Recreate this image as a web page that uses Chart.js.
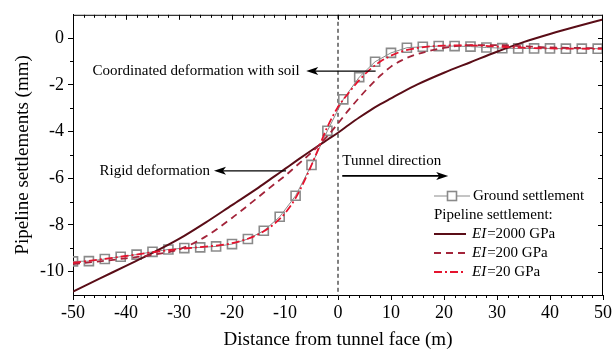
<!DOCTYPE html>
<html>
<head>
<meta charset="utf-8">
<script src="https://cdn.jsdelivr.net/npm/chart.js@4.4.0/dist/chart.umd.min.js"></script>
<style>
  html, body { margin: 0; padding: 0; background: #fff; }
  #wrap { width: 614px; height: 356px; }
</style>
</head>
<body>
<div id="wrap"><canvas id="settlementChart"></canvas></div>
<script>
// ground surface settlement, measured every 3 m (m, mm)
const groundX = [-50, -47, -44, -41, -38, -35, -32, -29, -26, -23, -20, -17, -14, -11, -8, -5, -2, 1, 4, 7, 10, 13, 16, 19, 22, 25, 28, 31, 34, 37, 40, 43, 46, 49];
const groundY = [-9.56, -9.55, -9.46, -9.36, -9.27, -9.15, -9.05, -8.99, -8.96, -8.92, -8.82, -8.6, -8.25, -7.65, -6.75, -5.43, -3.97, -2.62, -1.67, -1.01, -0.63, -0.41, -0.37, -0.34, -0.34, -0.36, -0.4, -0.43, -0.44, -0.44, -0.44, -0.45, -0.45, -0.45];

// pipeline settlement for three bending stiffnesses
const pipeX = [-50, -45, -40, -35, -30, -25, -20, -15, -12, -10, -8, -6, -4, -2, 0, 2, 4, 6, 8, 10, 12, 15, 20, 25, 30, 35, 40, 45, 50];
const pipe2000 = [-10.85, -10.3, -9.75, -9.2, -8.6, -7.9, -7.15, -6.4, -5.92, -5.6, -5.28, -4.96, -4.65, -4.35, -4.05, -3.72, -3.4, -3.1, -2.83, -2.58, -2.33, -1.98, -1.48, -1.03, -0.58, -0.17, 0.18, 0.5, 0.8];
const pipe200 = [-9.68, -9.56, -9.43, -9.28, -9.05, -8.5, -7.7, -6.8, -6.25, -5.9, -5.5, -5.1, -4.68, -4.2, -3.65, -3.08, -2.55, -2.05, -1.6, -1.22, -0.95, -0.68, -0.42, -0.3, -0.3, -0.35, -0.4, -0.42, -0.43];
const pipe20 = [-9.62, -9.48, -9.33, -9.17, -9.03, -8.93, -8.78, -8.4, -7.95, -7.5, -6.85, -5.95, -4.9, -3.8, -2.95, -2.35, -1.8, -1.35, -1.0, -0.75, -0.57, -0.42, -0.32, -0.31, -0.36, -0.41, -0.44, -0.45, -0.46];

const xTicks = [-50, -40, -30, -20, -10, 0, 10, 20, 30, 40, 50];
const yTicks = [-10, -8, -6, -4, -2, 0];

const SERIF = '"Liberation Serif", "Times New Roman", serif';
const C_GROUND = '#8a8a8a';
const C_2000 = '#5a0d17';
const C_200 = '#a3243a';
const C_20 = '#e5132e';

const pts = (xs, ys) => xs.map((x, i) => ({ x: x, y: ys[i] }));

// filled arrow head pointing along x
function arrow(ctx, x1, x2, y, lw) {
  const dir = x2 > x1 ? 1 : -1;
  const len = 12, half = 4;
  ctx.save();
  ctx.strokeStyle = '#000';
  ctx.fillStyle = '#000';
  ctx.lineWidth = lw;
  ctx.beginPath();
  ctx.moveTo(x1, y);
  ctx.lineTo(x2 - dir * len * 0.6, y);
  ctx.stroke();
  ctx.beginPath();
  ctx.moveTo(x2, y);
  ctx.lineTo(x2 - dir * len, y - half);
  ctx.lineTo(x2 - dir * len * 0.75, y);
  ctx.lineTo(x2 - dir * len, y + half);
  ctx.closePath();
  ctx.fill();
  ctx.restore();
}

const decor = {
  id: 'decor',
  beforeDatasetsDraw(chart) {
    const { ctx, chartArea: a, scales: { x } } = chart;
    // tunnel face line
    const x0 = x.getPixelForValue(0);
    ctx.save();
    ctx.strokeStyle = '#000';
    ctx.lineWidth = 1;
    ctx.setLineDash([4, 3]);
    ctx.beginPath();
    ctx.moveTo(x0, a.top);
    ctx.lineTo(x0, a.bottom);
    ctx.stroke();
    ctx.restore();
  },
  afterDatasetsDraw(chart) {
    const { ctx, scales: { x, y } } = chart;
    ctx.save();
    ctx.font = '15px ' + SERIF;
    ctx.fillStyle = '#000';
    ctx.textBaseline = 'middle';
    ctx.textAlign = 'left';

    ctx.fillText('Coordinated deformation with soil', x.getPixelForValue(-46.3), y.getPixelForValue(-1.41));
    arrow(ctx, x.getPixelForValue(7.1), x.getPixelForValue(-6.0), y.getPixelForValue(-1.41), 1.2);

    ctx.fillText('Rigid deformation', x.getPixelForValue(-45), y.getPixelForValue(-5.68));
    arrow(ctx, x.getPixelForValue(-9.8), x.getPixelForValue(-23.4), y.getPixelForValue(-5.68), 1.2);

    ctx.fillText('Tunnel direction', x.getPixelForValue(0.8), y.getPixelForValue(-5.26));
    arrow(ctx, x.getPixelForValue(0.8), x.getPixelForValue(20.8), y.getPixelForValue(-5.9), 1.8);
    ctx.restore();
  },
  afterDraw(chart) {
    const { ctx, chartArea: a, scales: { x, y } } = chart;
    ctx.save();
    ctx.strokeStyle = '#000';
    ctx.lineWidth = 1;

    // top and right frame
    ctx.beginPath();
    ctx.moveTo(a.left, a.top + 0.5);
    ctx.lineTo(a.right, a.top + 0.5);
    ctx.moveTo(a.right - 0.5, a.top);
    ctx.lineTo(a.right - 0.5, a.bottom);
    ctx.stroke();

    // minor ticks outside, all ticks mirrored inside on top/right
    ctx.beginPath();
    for (let v = -50; v <= 50; v += 2) {
      const px = Math.round(x.getPixelForValue(v)) + 0.5;
      const major = v % 10 === 0;
      if (!major) {
        ctx.moveTo(px, a.bottom);
        ctx.lineTo(px, a.bottom + 3);
      }
      if (v > -50 && v < 50) {
        ctx.moveTo(px, a.top);
        ctx.lineTo(px, a.top + (major ? 5 : 3));
      }
    }
    for (let v = -10; v <= 0; v += 1) {
      const py = Math.round(y.getPixelForValue(v)) + 0.5;
      const major = v % 2 === 0;
      if (!major) {
        ctx.moveTo(a.left, py);
        ctx.lineTo(a.left - 3, py);
      }
      ctx.moveTo(a.right, py);
      ctx.lineTo(a.right - (major ? 5 : 3), py);
    }
    ctx.stroke();

    // legend
    const lx = a.right - 169;
    const rows = [a.bottom - 99, a.bottom - 80, a.bottom - 61, a.bottom - 42, a.bottom - 23];
    ctx.font = '15px ' + SERIF;
    ctx.fillStyle = '#000';
    ctx.textBaseline = 'middle';
    ctx.textAlign = 'left';

    ctx.strokeStyle = C_GROUND;
    ctx.lineWidth = 1;
    ctx.beginPath();
    ctx.moveTo(lx, rows[0]);
    ctx.lineTo(lx + 36, rows[0]);
    ctx.stroke();
    ctx.fillStyle = '#fff';
    ctx.lineWidth = 1.6;
    ctx.fillRect(lx + 13.5, rows[0] - 4.5, 9, 9);
    ctx.strokeRect(lx + 13.5, rows[0] - 4.5, 9, 9);
    ctx.fillStyle = '#000';
    ctx.fillText('Ground settlement', lx + 39, rows[0]);
    ctx.fillText('Pipeline settlement:', lx, rows[1]);

    const items = [
      { color: C_2000, dash: [], width: 2, label: '=2000 GPa' },
      { color: C_200, dash: [7, 5], width: 1.8, label: '=200 GPa' },
      { color: C_20, dash: [8, 3, 2, 3], width: 1.8, label: '=20 GPa' }
    ];
    items.forEach((it, i) => {
      const ry = rows[i + 2];
      ctx.strokeStyle = it.color;
      ctx.lineWidth = it.width;
      ctx.setLineDash(it.dash);
      ctx.beginPath();
      ctx.moveTo(lx, ry);
      ctx.lineTo(lx + 32, ry);
      ctx.stroke();
      ctx.setLineDash([]);
      ctx.font = 'italic 15px ' + SERIF;
      ctx.fillText('EI', lx + 38, ry);
      const w = ctx.measureText('EI').width;
      ctx.font = '15px ' + SERIF;
      ctx.fillText(it.label, lx + 38 + w + 1, ry);
    });
    ctx.restore();
  }
};

const ctx = document.getElementById('settlementChart').getContext('2d');
new Chart(ctx, {
  type: 'line',
  data: {
    datasets: [
      {
        label: 'Ground settlement',
        data: pts(groundX, groundY),
        borderColor: C_GROUND,
        borderWidth: 1,
        tension: 0,
        pointStyle: 'rect',
        pointRadius: 6.4,
        pointBorderWidth: 1.6,
        pointBorderColor: C_GROUND,
        pointBackgroundColor: 'rgba(0,0,0,0)',
        order: 4
      },
      {
        label: 'EI=2000 GPa',
        data: pts(pipeX, pipe2000),
        borderColor: C_2000,
        borderWidth: 2,
        cubicInterpolationMode: 'monotone',
        pointRadius: 0,
        order: 3
      },
      {
        label: 'EI=200 GPa',
        data: pts(pipeX, pipe200),
        borderColor: C_200,
        borderWidth: 1.8,
        borderDash: [7, 5],
        cubicInterpolationMode: 'monotone',
        pointRadius: 0,
        order: 2
      },
      {
        label: 'EI=20 GPa',
        data: pts(pipeX, pipe20),
        borderColor: C_20,
        borderWidth: 1.8,
        borderDash: [8, 3, 2, 3],
        cubicInterpolationMode: 'monotone',
        pointRadius: 0,
        order: 1
      }
    ]
  },
  options: {
    responsive: true,
    maintainAspectRatio: false,
    animation: false,
    layout: { padding: { left: 0, right: 8, top: 14, bottom: 0 } },
    plugins: {
      legend: { display: false },
      tooltip: { enabled: false }
    },
    scales: {
      x: {
        type: 'linear',
        min: -50,
        max: 50,
        afterBuildTicks: s => { s.ticks = xTicks.map(v => ({ value: v })); },
        afterFit: s => { s.height = 61; },
        ticks: { color: '#000', font: { family: SERIF, size: 18 }, padding: 2, maxRotation: 0 },
        grid: { drawOnChartArea: false, drawTicks: true, tickLength: 5, color: '#000' },
        border: { display: true, color: '#000', width: 1 },
        title: {
          display: true,
          text: 'Distance from tunnel face (m)',
          color: '#000',
          font: { family: SERIF, size: 19 },
          padding: { top: 0, bottom: 5 }
        }
      },
      y: {
        min: -11,
        max: 1,
        afterBuildTicks: s => { s.ticks = yTicks.map(v => ({ value: v })); },
        afterFit: s => { s.width = 73; },
        ticks: { color: '#000', font: { family: SERIF, size: 18 }, padding: 4 },
        grid: { drawOnChartArea: false, drawTicks: true, tickLength: 5, color: '#000' },
        border: { display: true, color: '#000', width: 1 },
        title: {
          display: true,
          text: 'Pipeline settlements (mm)',
          color: '#000',
          font: { family: SERIF, size: 19 },
          padding: { top: 12, bottom: 0 }
        }
      }
    }
  },
  plugins: [decor]
});
</script>
</body>
</html>
